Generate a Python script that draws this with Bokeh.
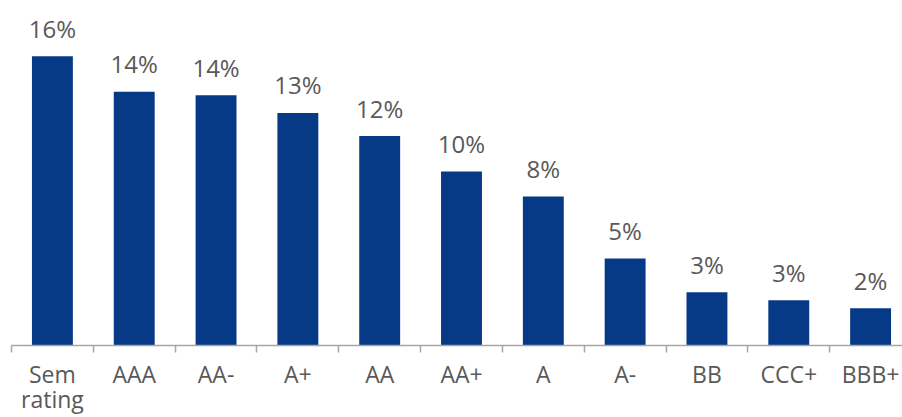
from bokeh.plotting import figure
from bokeh.models import ColumnDataSource, Range1d, FixedTicker, LinearAxis
from bokeh.core.properties import value
from bokeh.embed import file_html
from bokeh.resources import INLINE

categories = ["Sem\nrating", "AAA", "AA-", "A+", "AA", "AA+", "A", "A-", "BB", "CCC+", "BBB+"]
values = [16.3, 14.3, 14.1, 13.1, 11.8, 9.8, 8.4, 4.9, 3.0, 2.55, 2.1]
labels = ["16%", "14%", "14%", "13%", "12%", "10%", "8%", "5%", "3%", "3%", "2%"]

xs = [i + 0.5 for i in range(len(categories))]
src = ColumnDataSource(dict(x=xs, top=values, label=labels))

PX_PER_UNIT = 17.8
p = figure(width=902, height=417, output_backend="svg", toolbar_location=None,
           x_range=Range1d(0, 10.89), y_range=Range1d(0, 346 / PX_PER_UNIT),
           min_border_left=11, min_border_right=0, min_border_top=0, min_border_bottom=71)
p.outline_line_color = None
p.background_fill_color = "white"
p.border_fill_color = "white"
p.xgrid.visible = False
p.ygrid.visible = False
p.yaxis.visible = False

p.vbar(x="x", top="top", bottom=0, width=0.5, source=src, fill_color="#063a87", line_color=None)
p.text(x="x", y="top", text="label", source=src, text_align="center", text_baseline="alphabetic",
       y_offset=-28, text_font=value("Open Sans"), text_font_size="24px", text_color="#595959")

lines = [c.split("\n") for c in categories]
first_lines = [l[0] for l in lines]
ax = p.xaxis[0]
ax.ticker = FixedTicker(ticks=xs, minor_ticks=list(range(len(categories) + 1)))
ax.major_label_overrides = {x: l for x, l in zip(xs, first_lines)}
ax.major_tick_out = 0
ax.major_tick_in = 0
ax.minor_tick_out = 7
ax.minor_tick_in = 0
ax.minor_tick_line_color = "#a6a6a6"
ax.minor_tick_line_width = 1.5
ax.axis_line_color = "#a6a6a6"
ax.axis_line_width = 1.5
ax.major_label_standoff = 5
ax.major_label_text_font = "Open Sans"
ax.major_label_text_font_size = "23px"
ax.major_label_text_color = "#595959"

# second line of multi-line category labels, on a second (line-less) axis
second = {x: l[1] for x, l in zip(xs, lines) if len(l) > 1}
ax2 = LinearAxis(ticker=FixedTicker(ticks=list(second.keys()), minor_ticks=[]),
                 major_label_overrides=second)
ax2.axis_line_color = None
ax2.major_tick_line_color = None
ax2.minor_tick_line_color = None
ax2.major_label_standoff = -16
ax2.major_label_text_font = "Open Sans"
ax2.major_label_text_font_size = "23px"
ax2.major_label_text_color = "#595959"
ax2.major_label_text_line_height = 0.75
p.add_layout(ax2, "below")

open("out.html", "w").write(file_html(p, INLINE))
